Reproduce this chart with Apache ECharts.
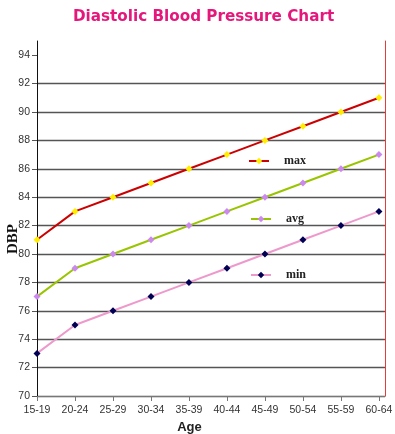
<!DOCTYPE html>
<html><head><meta charset="utf-8">
<script src="https://cdn.jsdelivr.net/npm/echarts@6/dist/echarts.min.js"></script>
<style>html,body{margin:0;padding:0;background:#fff}#c{width:395px;height:434px}</style>
</head><body><div id="c"></div>
<script>
var categories = ['15-19','20-24','25-29','30-34','35-39','40-44','45-49','50-54','55-59','60-64'];
var maxValues = [81, 83, 84, 85, 86, 87, 88, 89, 90, 91];
var avgValues = [77, 79, 80, 81, 82, 83, 84, 85, 86, 87];
var minValues = [73, 75, 76, 77, 78, 79, 80, 81, 82, 83];
var yTicks = [70, 72, 74, 76, 78, 80, 82, 84, 86, 88, 90, 92, 94];
var yAxisTitle = 'DBP';

function pairs(arr){ return arr.map(function(v,i){ return [i, v]; }); }
var idx = categories.map(function(c,i){ return i; });

var chart = echarts.init(document.getElementById('c'));
var legendText = {fontFamily:'Liberation Serif, Times New Roman, serif', fontWeight:'bold', fontSize:12, color:'#222', padding:[0,0,0,10]};
chart.setOption({
  animation:false,
  title:{text:'Diastolic Blood Pressure Chart', left:68, top:5,
    textStyle:{color:'#e5177b', fontFamily:'DejaVu Sans, Verdana, sans-serif', fontWeight:'bold', fontSize:15.2}},
  grid:{left:37, right:10, top:41, bottom:38, outerBoundsMode:'none', containLabel:false},
  graphic:[{type:'text', x:13, y:239, rotation:Math.PI/2,
    style:{text:yAxisTitle, align:'center', verticalAlign:'middle', fill:'#111',
      font:'bold 15px "Liberation Serif", "Times New Roman", serif'}}],
  legend:[
    {data:['max'], left:248, top:155, padding:0, itemWidth:20, itemHeight:8, textStyle:legendText},
    {data:['avg'], left:250, top:213, padding:0, itemWidth:20, itemHeight:8, textStyle:legendText},
    {data:['min'], left:250, top:269, padding:0, itemWidth:20, itemHeight:8, textStyle:legendText}
  ],
  xAxis:{type:'value', min:0, max:9.16,
    name:'Age', nameLocation:'middle', nameGap:22,
    nameTextStyle:{fontFamily:'Liberation Sans, Arial, sans-serif', fontWeight:'bold', fontSize:13, color:'#222', padding:[0,43,0,0]},
    axisLine:{show:true, onZero:false, lineStyle:{color:'#777', width:1}},
    axisTick:{show:true, length:5, lineStyle:{color:'#777'}, customValues:idx},
    axisLabel:{customValues:idx, fontFamily:'Liberation Sans, Arial, sans-serif', fontSize:10.5, color:'#333', margin:9,
      formatter:function(v){ return categories[Math.round(v)] || ''; }},
    splitLine:{show:false}},
  yAxis:[
    {type:'value', min:70, max:95, interval:2,
     axisLine:{show:true, lineStyle:{color:'#111', width:1}},
     axisTick:{show:true, length:5, lineStyle:{color:'#555'}, customValues:yTicks},
     axisLabel:{customValues:yTicks, fontFamily:'Liberation Sans, Arial, sans-serif', fontSize:10.5, color:'#333', margin:7},
     splitLine:{show:true, showMaxLine:false, lineStyle:{color:'#555', width:1.3}}},
    {type:'value', min:70, max:95, position:'right',
     axisLine:{show:true, lineStyle:{color:'#e83a3a', width:1}},
     axisTick:{show:false}, axisLabel:{show:false}, splitLine:{show:false}}
  ],
  series:[
    {name:'max', type:'line', data:pairs(maxValues), symbol:'diamond', symbolSize:7, clip:false,
     lineStyle:{color:'#cc0000', width:2}, itemStyle:{color:'#ffee00'}},
    {name:'avg', type:'line', data:pairs(avgValues), symbol:'diamond', symbolSize:7, clip:false,
     lineStyle:{color:'#99c400', width:2}, itemStyle:{color:'#cc88ee'}},
    {name:'min', type:'line', data:pairs(minValues), symbol:'diamond', symbolSize:7, clip:false,
     lineStyle:{color:'#ee99cc', width:2}, itemStyle:{color:'#000055'}}
  ]
});
</script></body></html>
